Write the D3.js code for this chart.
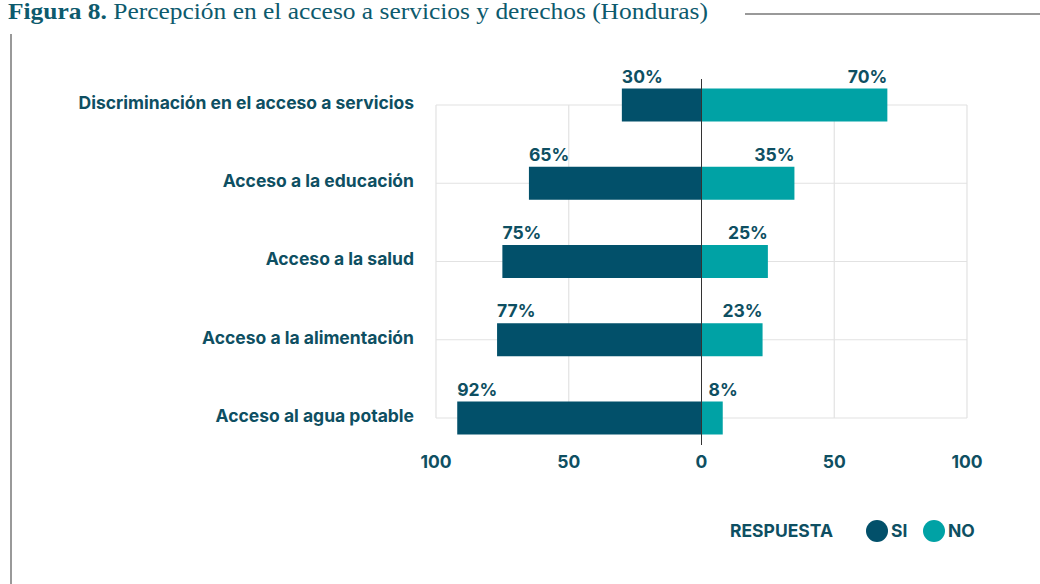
<!DOCTYPE html>
<html>
<head>
<meta charset="utf-8">
<script src="https://cdn.jsdelivr.net/npm/d3@7"></script>
<style>
  body { margin: 0; background: #fff; }
  svg { display: block; }
</style>
</head>
<body>
<svg width="1040" height="584"></svg>
<script>
const categories = [
    "Discriminación en el acceso a servicios",
    "Acceso a la educación",
    "Acceso a la salud",
    "Acceso a la alimentación",
    "Acceso al agua potable"
];
const siValues = [30, 65, 75, 77, 92];
const noValues = [70, 35, 25, 23, 8];
const xTicks = [-100, -50, 0, 50, 100];
const legendItems = ["SI", "NO"];

const textColor = "#0e4f62";
const colorSi = "#02506a";
const colorNo = "#00a2a5";
const font = "Inter, Roboto, sans-serif";

const svg = d3.select("svg");

// title
const title = svg.append("text")
    .attr("x", 8)
    .attr("y", 19)
    .style("font-family", "'Liberation Serif', serif")
    .style("font-size", "23px")
    .attr("fill", "#0d5a6d");
title.append("tspan").attr("font-weight", "bold").text("Figura 8.");
title.append("tspan").text(" Percepción en el acceso a servicios y derechos (Honduras)");
title.attr("textLength", 700).attr("lengthAdjust", "spacingAndGlyphs");

// frame lines
svg.append("line")
    .attr("x1", 745).attr("x2", 1040).attr("y1", 14).attr("y2", 14)
    .attr("stroke", "#777").attr("stroke-width", 1.5);
svg.append("line")
    .attr("x1", 11).attr("x2", 11).attr("y1", 34).attr("y2", 584)
    .attr("stroke", "#777").attr("stroke-width", 1.5);

const x = d3.scaleLinear().domain([-100, 100]).range([436, 967]);
const y = d3.scalePoint().domain(categories).range([105, 418]);
const barH = 33;

// grid
const grid = svg.append("g").attr("stroke", "#e2e2e2").attr("stroke-width", 1.2);
grid.selectAll("line.h")
    .data(categories)
    .join("line")
    .attr("class", "h")
    .attr("x1", x(-100)).attr("x2", x(100))
    .attr("y1", d => y(d)).attr("y2", d => y(d));
grid.selectAll("line.v")
    .data(xTicks.filter(d => d !== 0))
    .join("line")
    .attr("class", "v")
    .attr("x1", d => x(d)).attr("x2", d => x(d))
    .attr("y1", y(categories[0])).attr("y2", y(categories[categories.length - 1]));

const rows = categories.map((c, i) => ({cat: c, si: siValues[i], no: noValues[i]}));

// bars
svg.append("g").selectAll("rect")
    .data(rows)
    .join("rect")
    .attr("x", d => x(-d.si))
    .attr("width", d => x(0) - x(-d.si))
    .attr("y", d => y(d.cat) - barH / 2)
    .attr("height", barH)
    .attr("fill", colorSi);

svg.append("g").selectAll("rect")
    .data(rows)
    .join("rect")
    .attr("x", x(0))
    .attr("width", d => x(d.no) - x(0))
    .attr("y", d => y(d.cat) - barH / 2)
    .attr("height", barH)
    .attr("fill", colorNo);

// zero line
svg.append("line")
    .attr("x1", x(0)).attr("x2", x(0))
    .attr("y1", 79).attr("y2", 445)
    .attr("stroke", "#333").attr("stroke-width", 1);

// value labels
const labelStyle = sel => sel
    .style("font-family", font)
    .style("font-size", "17.5px")
    .style("font-weight", "bold")
    .attr("fill", textColor);

svg.append("g").selectAll("text")
    .data(rows)
    .join("text")
    .call(labelStyle)
    .attr("x", d => x(-d.si))
    .attr("y", d => y(d.cat) - barH / 2 - 6)
    .text(d => d.si + "%");

svg.append("g").selectAll("text")
    .data(rows)
    .join("text")
    .call(labelStyle)
    .attr("y", d => y(d.cat) - barH / 2 - 6)
    .text(d => d.no + "%")
    .attr("x", function(d) {
        const w = this.getComputedTextLength();
        return Math.max(x(d.no) - w, x(0) + 7);
    });

// category labels
svg.append("g").selectAll("text")
    .data(categories)
    .join("text")
    .call(labelStyle)
    .attr("x", 414)
    .attr("y", d => y(d))
    .attr("dy", "0.22em")
    .attr("text-anchor", "end")
    .text(d => d);

// x axis labels
svg.append("g").selectAll("text")
    .data(xTicks)
    .join("text")
    .call(labelStyle)
    .attr("x", d => x(d))
    .attr("y", 468)
    .attr("text-anchor", "middle")
    .text(d => Math.abs(d));

// legend
svg.append("text")
    .call(labelStyle)
    .attr("x", 730).attr("y", 537)
    .text("RESPUESTA");

const legendColors = [colorSi, colorNo];
const lg = svg.append("g").selectAll("g")
    .data(legendItems)
    .join("g")
    .attr("transform", (d, i) => `translate(${877 + i * 57},531)`);
lg.append("circle")
    .attr("r", 11)
    .attr("fill", (d, i) => legendColors[i]);
lg.append("text")
    .call(labelStyle)
    .attr("x", 14).attr("y", 6)
    .text(d => d);
</script>
</body>
</html>
